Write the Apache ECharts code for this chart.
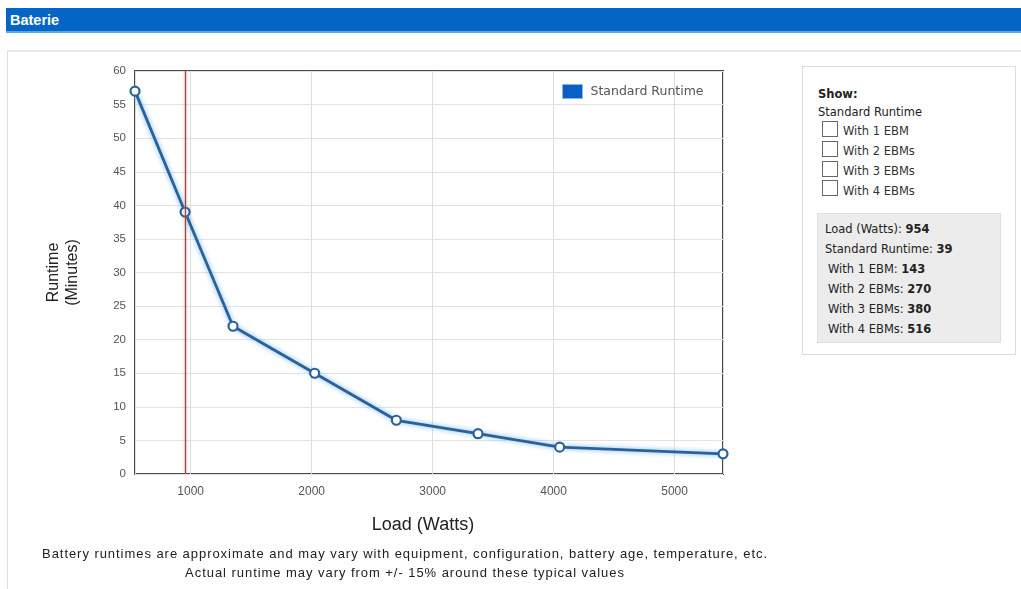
<!DOCTYPE html>
<html>
<head>
<meta charset="utf-8">
<script src="https://cdn.jsdelivr.net/npm/echarts@6/dist/echarts.min.js"></script>
<style>
  html, body { margin:0; padding:0; background:#fff; width:1021px; height:589px; overflow:hidden;
    font-family:"Liberation Sans", Arial, sans-serif; }
  #header { position:absolute; left:6px; top:8px; width:1015px; height:25px; background:#0565c6;
    color:#fff; font-weight:bold; font-size:14.5px; line-height:24px; box-sizing:border-box; padding-left:4px;
    border-bottom:2px solid #5aa6e6; }
  #frame { position:absolute; left:7px; top:50px; width:1014px; height:539px;
    border-top:2px solid #e8e8e8; border-left:1px solid #e0e0e0; }
  #chart { position:absolute; left:0; top:0; width:1021px; height:589px; }
  #side { position:absolute; left:802px; top:66px; width:214px; height:289px; box-sizing:border-box;
    border:1px solid #dcdcdc; background:#fff; font-family:"DejaVu Sans", sans-serif; font-size:11.5px; color:#222; }
  #side .t { position:absolute; left:15px; }
  #side .cb { position:absolute; left:19px; width:16px; height:16px; border:1px solid #666; box-sizing:border-box; background:#fff; }
  #side .cl { position:absolute; left:40px; color:#333; }
  #info { position:absolute; left:14px; top:146px; width:184px; height:130px; background:#ececec;
    border:1px solid #e0e0e0; box-sizing:border-box; font-size:11.5px; color:#222; }
  #info div { position:absolute; }
  #footer { position:absolute; left:0; top:544px; width:810px; text-align:center; font-size:13px; letter-spacing:0.95px; color:#222; line-height:19px; }
</style>
</head>
<body>
<div id="frame"></div>
<div id="header">Baterie</div>
<div id="chart"></div>
<div id="side">
  <div class="t" style="top:20px;font-weight:bold;">Show:</div>
  <div class="t" style="top:38px;">Standard Runtime</div>
  <div class="cb" style="top:54px;"></div><div class="cl" style="top:57px;">With 1 EBM</div>
  <div class="cb" style="top:74px;"></div><div class="cl" style="top:77px;">With 2 EBMs</div>
  <div class="cb" style="top:94px;"></div><div class="cl" style="top:97px;">With 3 EBMs</div>
  <div class="cb" style="top:113px;"></div><div class="cl" style="top:117px;">With 4 EBMs</div>
  <div id="info">
    <div style="left:7px;top:8px;">Load (Watts): <b>954</b></div>
    <div style="left:7px;top:28px;">Standard Runtime: <b>39</b></div>
    <div style="left:10px;top:48px;">With 1 EBM: <b>143</b></div>
    <div style="left:10px;top:68px;">With 2 EBMs: <b>270</b></div>
    <div style="left:10px;top:88px;">With 3 EBMs: <b>380</b></div>
    <div style="left:10px;top:108px;">With 4 EBMs: <b>516</b></div>
  </div>
</div>
<div id="footer">Battery runtimes are approximate and may vary with equipment, configuration, battery age, temperature, etc.<br>Actual runtime may vary from +/- 15% around these typical values</div>
<script>
var loadWatts = [540, 954, 1350, 2025, 2700, 3375, 4050, 5400];
var standardRuntime = [57, 39, 22, 15, 8, 6, 4, 3];
var currentLoad = 954;
var xMin = 540, xMax = 5400;
var yMin = 0, yMax = 60, yStep = 5;

var chart = echarts.init(document.getElementById('chart'), null, {renderer:'canvas'});
var pts = loadWatts.map(function(x, i){ return [x, standardRuntime[i]]; });
chart.setOption({
  animation:false,
  backgroundColor:'transparent',
  textStyle:{ fontFamily:'"Liberation Sans", Arial, sans-serif' },
  grid:{ left:135, right:298, top:71, bottom:115, show:true, borderColor:'#4a4a4a', borderWidth:2, backgroundColor:'#fff' },
  legend:{ show:true, left:557, top:79, itemWidth:20, itemHeight:14, icon:'rect', itemGap:10,
    textStyle:{ color:'#555', fontSize:12.5, fontFamily:'"DejaVu Sans", sans-serif', padding:[0,0,0,3] },
    itemStyle:{ color:'#0b5fc4', borderColor:'#8ab4e0', borderWidth:1 },
    data:['Standard Runtime'] },
  xAxis:{ type:'value', min:xMin, max:xMax, splitNumber:5,
    name:'Load (Watts)', nameLocation:'middle', nameGap:42,
    nameTextStyle:{ fontSize:18, color:'#222', padding:[0,12,0,0] },
    axisLine:{ show:false }, axisTick:{ show:false },
    axisLabel:{ color:'#555', fontSize:12, margin:12, showMinLabel:false, showMaxLabel:false,
      formatter:function(v){ return String(v); } },
    splitLine:{ show:true, lineStyle:{ color:'#dedede', width:1 } } },
  yAxis:{ type:'value', min:yMin, max:yMax, interval:yStep,
    name:'Runtime\n(Minutes)', nameLocation:'middle', nameGap:53, nameRotate:90,
    nameTextStyle:{ fontSize:16, color:'#222', lineHeight:19 },
    axisLine:{ show:false }, axisTick:{ show:false },
    axisLabel:{ color:'#555', fontSize:11.5, margin:9 },
    splitLine:{ show:true, lineStyle:{ color:'#e2e2e2', width:1 } } },
  series:[{
    name:'Standard Runtime', type:'line', data:pts,
    symbol:'circle', symbolSize:9,
    lineStyle:{ color:'#2a6199', width:2.8, shadowColor:'rgba(90,170,240,0.9)', shadowBlur:5 },
    itemStyle:{ color:'#ffffff', borderColor:'#2a6199', borderWidth:2.2 },
    markLine:{ silent:true, symbol:['none','none'], label:{show:false},
      lineStyle:{ color:'#a04a46', width:1.3, type:'solid', shadowColor:'rgba(230,130,130,0.7)', shadowBlur:3 },
      data:[{ xAxis: currentLoad }] }
  }]
});
</script>
</body>
</html>
